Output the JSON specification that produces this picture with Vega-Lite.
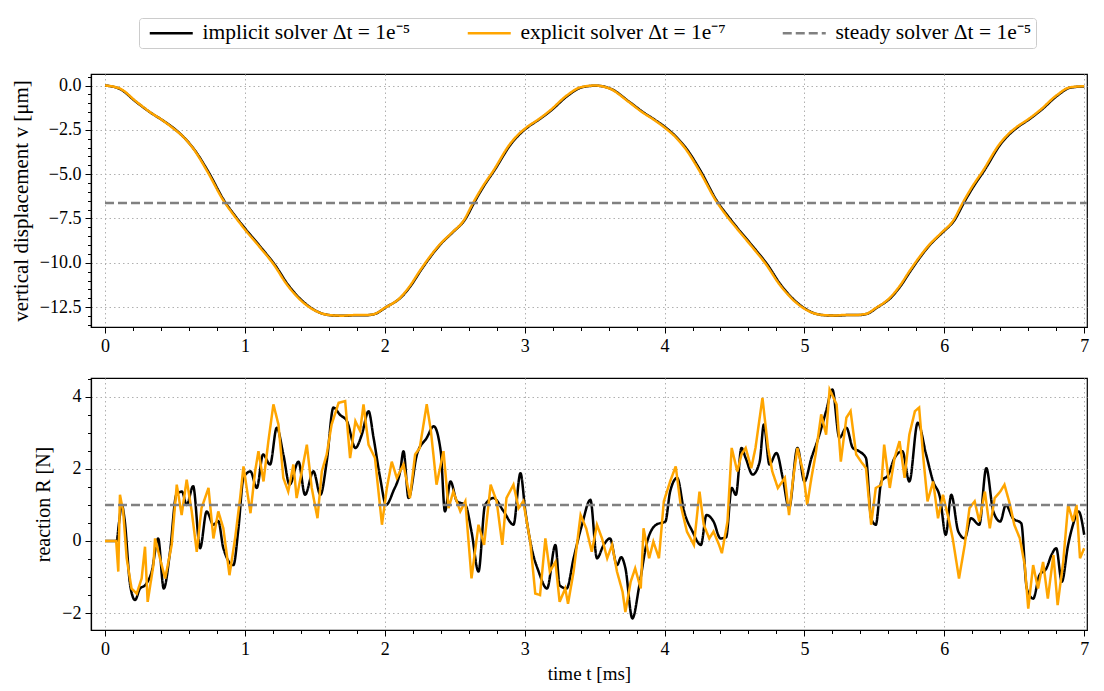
{
  "$schema": "https://vega.github.io/schema/vega-lite/v6.json",
  "padding": {"left": 9, "top": 17, "right": 0, "bottom": 0},
  "background": "white",
  "config": {
    "font": "Liberation Serif",
    "view": {"stroke": "black", "strokeWidth": 1.2},
    "axis": {
      "labelFont": "Liberation Serif", "labelFontSize": 18, "labelColor": "black",
      "titleFont": "Liberation Serif", "titleFontSize": 19, "titleFontWeight": "normal", "titleColor": "black",
      "domainColor": "black", "domainWidth": 1.2, "tickColor": "black", "tickWidth": 1,
      "gridColor": "#b0b0b0", "gridDash": [1.5, 3], "gridWidth": 1, "labelPadding": 4
    },
    "legend": {
      "labelFont": "Liberation Serif", "labelFontSize": 21.5, "labelColor": "black", "labelLimit": 0
    }
  },
  "datasets": {
    "disp": [
      {"s":"implicit","t":0,"y":0},{"s":"implicit","t":0.1,"y":-0.17},{"s":"implicit","t":0.23,"y":-0.97},{"s":"implicit","t":0.33,"y":-1.55},{"s":"implicit","t":0.41,"y":-1.95},{"s":"implicit","t":0.49,"y":-2.4},{"s":"implicit","t":0.57,"y":-2.97},{"s":"implicit","t":0.64,"y":-3.63},{"s":"implicit","t":0.74,"y":-4.88},{"s":"implicit","t":0.855,"y":-6.53},{"s":"implicit","t":0.93,"y":-7.35},{"s":"implicit","t":1.0,"y":-8.05},{"s":"implicit","t":1.12,"y":-9.18},{"s":"implicit","t":1.215,"y":-10.12},{"s":"implicit","t":1.31,"y":-11.25},{"s":"implicit","t":1.43,"y":-12.28},{"s":"implicit","t":1.545,"y":-12.84},{"s":"implicit","t":1.63,"y":-12.97},{"s":"implicit","t":1.71,"y":-12.99},{"s":"implicit","t":1.78,"y":-12.96},{"s":"implicit","t":1.86,"y":-12.96},{"s":"implicit","t":1.93,"y":-12.88},{"s":"implicit","t":2.01,"y":-12.5},{"s":"implicit","t":2.12,"y":-11.92},{"s":"implicit","t":2.19,"y":-11.25},{"s":"implicit","t":2.26,"y":-10.4},{"s":"implicit","t":2.405,"y":-8.9},{"s":"implicit","t":2.49,"y":-8.25},{"s":"implicit","t":2.572,"y":-7.58},{"s":"implicit","t":2.643,"y":-6.55},{"s":"implicit","t":2.71,"y":-5.65},{"s":"implicit","t":2.785,"y":-4.77},{"s":"implicit","t":2.905,"y":-3.27},{"s":"implicit","t":2.96,"y":-2.78},{"s":"implicit","t":3.024,"y":-2.34},{"s":"implicit","t":3.11,"y":-1.88},{"s":"implicit","t":3.19,"y":-1.4},{"s":"implicit","t":3.31,"y":-0.56},{"s":"implicit","t":3.41,"y":-0.1},{"s":"implicit","t":3.51,"y":-0.01},{"s":"implicit","t":3.62,"y":-0.2},{"s":"implicit","t":3.75,"y":-0.93},{"s":"implicit","t":3.85,"y":-1.52},{"s":"implicit","t":3.93,"y":-1.93},{"s":"implicit","t":4.01,"y":-2.38},{"s":"implicit","t":4.09,"y":-2.95},{"s":"implicit","t":4.16,"y":-3.6},{"s":"implicit","t":4.26,"y":-4.85},{"s":"implicit","t":4.375,"y":-6.52},{"s":"implicit","t":4.45,"y":-7.33},{"s":"implicit","t":4.52,"y":-8.03},{"s":"implicit","t":4.64,"y":-9.16},{"s":"implicit","t":4.735,"y":-10.1},{"s":"implicit","t":4.83,"y":-11.23},{"s":"implicit","t":4.95,"y":-12.26},{"s":"implicit","t":5.065,"y":-12.83},{"s":"implicit","t":5.15,"y":-12.96},{"s":"implicit","t":5.23,"y":-12.98},{"s":"implicit","t":5.3,"y":-12.95},{"s":"implicit","t":5.38,"y":-12.95},{"s":"implicit","t":5.45,"y":-12.87},{"s":"implicit","t":5.52,"y":-12.52},{"s":"implicit","t":5.62,"y":-11.95},{"s":"implicit","t":5.69,"y":-11.28},{"s":"implicit","t":5.76,"y":-10.44},{"s":"implicit","t":5.905,"y":-8.92},{"s":"implicit","t":5.99,"y":-8.27},{"s":"implicit","t":6.072,"y":-7.6},{"s":"implicit","t":6.143,"y":-6.57},{"s":"implicit","t":6.21,"y":-5.68},{"s":"implicit","t":6.286,"y":-4.79},{"s":"implicit","t":6.405,"y":-3.28},{"s":"implicit","t":6.46,"y":-2.79},{"s":"implicit","t":6.524,"y":-2.35},{"s":"implicit","t":6.61,"y":-1.89},{"s":"implicit","t":6.69,"y":-1.4},{"s":"implicit","t":6.81,"y":-0.56},{"s":"implicit","t":6.9,"y":-0.12},{"s":"implicit","t":7.0,"y":-0.05},
      {"s":"explicit","t":0,"y":0},{"s":"explicit","t":0.1,"y":-0.15},{"s":"explicit","t":0.229,"y":-0.94},{"s":"explicit","t":0.324,"y":-1.51},{"s":"explicit","t":0.4,"y":-1.9},{"s":"explicit","t":0.479,"y":-2.36},{"s":"explicit","t":0.56,"y":-2.9},{"s":"explicit","t":0.633,"y":-3.58},{"s":"explicit","t":0.729,"y":-4.81},{"s":"explicit","t":0.848,"y":-6.5},{"s":"explicit","t":0.92,"y":-7.3},{"s":"explicit","t":0.99,"y":-8.02},{"s":"explicit","t":1.11,"y":-9.15},{"s":"explicit","t":1.205,"y":-10.08},{"s":"explicit","t":1.3,"y":-11.22},{"s":"explicit","t":1.419,"y":-12.25},{"s":"explicit","t":1.538,"y":-12.82},{"s":"explicit","t":1.62,"y":-12.96},{"s":"explicit","t":1.7,"y":-12.98},{"s":"explicit","t":1.776,"y":-12.95},{"s":"explicit","t":1.85,"y":-12.95},{"s":"explicit","t":1.92,"y":-12.9},{"s":"explicit","t":2.0,"y":-12.54},{"s":"explicit","t":2.11,"y":-11.97},{"s":"explicit","t":2.18,"y":-11.3},{"s":"explicit","t":2.25,"y":-10.46},{"s":"explicit","t":2.395,"y":-8.95},{"s":"explicit","t":2.48,"y":-8.3},{"s":"explicit","t":2.562,"y":-7.64},{"s":"explicit","t":2.633,"y":-6.6},{"s":"explicit","t":2.7,"y":-5.7},{"s":"explicit","t":2.776,"y":-4.81},{"s":"explicit","t":2.895,"y":-3.3},{"s":"explicit","t":2.95,"y":-2.8},{"s":"explicit","t":3.014,"y":-2.36},{"s":"explicit","t":3.1,"y":-1.9},{"s":"explicit","t":3.181,"y":-1.41},{"s":"explicit","t":3.3,"y":-0.57},{"s":"explicit","t":3.4,"y":-0.1},{"s":"explicit","t":3.5,"y":0},{"s":"explicit","t":3.61,"y":-0.18},{"s":"explicit","t":3.74,"y":-0.9},{"s":"explicit","t":3.84,"y":-1.5},{"s":"explicit","t":3.92,"y":-1.91},{"s":"explicit","t":4.0,"y":-2.37},{"s":"explicit","t":4.08,"y":-2.92},{"s":"explicit","t":4.15,"y":-3.57},{"s":"explicit","t":4.25,"y":-4.82},{"s":"explicit","t":4.368,"y":-6.5},{"s":"explicit","t":4.44,"y":-7.31},{"s":"explicit","t":4.51,"y":-8.0},{"s":"explicit","t":4.63,"y":-9.14},{"s":"explicit","t":4.725,"y":-10.08},{"s":"explicit","t":4.82,"y":-11.2},{"s":"explicit","t":4.94,"y":-12.24},{"s":"explicit","t":5.055,"y":-12.81},{"s":"explicit","t":5.14,"y":-12.95},{"s":"explicit","t":5.22,"y":-12.97},{"s":"explicit","t":5.29,"y":-12.94},{"s":"explicit","t":5.37,"y":-12.94},{"s":"explicit","t":5.44,"y":-12.88},{"s":"explicit","t":5.51,"y":-12.55},{"s":"explicit","t":5.61,"y":-11.98},{"s":"explicit","t":5.68,"y":-11.32},{"s":"explicit","t":5.75,"y":-10.48},{"s":"explicit","t":5.895,"y":-8.96},{"s":"explicit","t":5.98,"y":-8.3},{"s":"explicit","t":6.062,"y":-7.64},{"s":"explicit","t":6.133,"y":-6.6},{"s":"explicit","t":6.2,"y":-5.7},{"s":"explicit","t":6.276,"y":-4.81},{"s":"explicit","t":6.395,"y":-3.3},{"s":"explicit","t":6.45,"y":-2.8},{"s":"explicit","t":6.514,"y":-2.36},{"s":"explicit","t":6.6,"y":-1.9},{"s":"explicit","t":6.681,"y":-1.41},{"s":"explicit","t":6.8,"y":-0.57},{"s":"explicit","t":6.9,"y":-0.1},{"s":"explicit","t":7.0,"y":-0.04},
      {"s":"steady","t":0,"y":-6.63},{"s":"steady","t":7.02,"y":-6.63}
    ],
    "react": [
      {"s":"implicit","t":0,"y":0},{"s":"implicit","t":0.083,"y":0},{"s":"implicit","t":0.1,"y":0.5},{"s":"implicit","t":0.12,"y":1.0},{"s":"implicit","t":0.14,"y":0.6},{"s":"implicit","t":0.18,"y":-1.23},{"s":"implicit","t":0.215,"y":-1.64},{"s":"implicit","t":0.25,"y":-1.32},{"s":"implicit","t":0.286,"y":-1.23},{"s":"implicit","t":0.334,"y":-0.85},{"s":"implicit","t":0.38,"y":0.07},{"s":"implicit","t":0.42,"y":-1.32},{"s":"implicit","t":0.465,"y":-0.3},{"s":"implicit","t":0.51,"y":1.28},{"s":"implicit","t":0.55,"y":1.37},{"s":"implicit","t":0.584,"y":1.0},{"s":"implicit","t":0.63,"y":1.52},{"s":"implicit","t":0.68,"y":-0.2},{"s":"implicit","t":0.727,"y":0.82},{"s":"implicit","t":0.775,"y":0.45},{"s":"implicit","t":0.81,"y":0.55},{"s":"implicit","t":0.846,"y":-0.2},{"s":"implicit","t":0.918,"y":-0.67},{"s":"implicit","t":0.954,"y":0.35},{"s":"implicit","t":0.99,"y":1.75},{"s":"implicit","t":1.04,"y":1.93},{"s":"implicit","t":1.085,"y":1.47},{"s":"implicit","t":1.13,"y":2.4},{"s":"implicit","t":1.18,"y":2.12},{"s":"implicit","t":1.228,"y":3.14},{"s":"implicit","t":1.275,"y":2.4},{"s":"implicit","t":1.32,"y":1.56},{"s":"implicit","t":1.383,"y":2.2},{"s":"implicit","t":1.43,"y":1.28},{"s":"implicit","t":1.49,"y":1.93},{"s":"implicit","t":1.54,"y":1.28},{"s":"implicit","t":1.585,"y":2.2},{"s":"implicit","t":1.633,"y":3.7},{"s":"implicit","t":1.68,"y":3.5},{"s":"implicit","t":1.73,"y":3.32},{"s":"implicit","t":1.79,"y":2.58},{"s":"implicit","t":1.836,"y":2.95},{"s":"implicit","t":1.884,"y":3.6},{"s":"implicit","t":1.92,"y":2.86},{"s":"implicit","t":1.967,"y":1.75},{"s":"implicit","t":2.01,"y":1.0},{"s":"implicit","t":2.06,"y":1.37},{"s":"implicit","t":2.11,"y":1.93},{"s":"implicit","t":2.134,"y":2.49},{"s":"implicit","t":2.17,"y":1.19},{"s":"implicit","t":2.23,"y":2.4},{"s":"implicit","t":2.3,"y":2.86},{"s":"implicit","t":2.35,"y":3.18},{"s":"implicit","t":2.4,"y":2.49},{"s":"implicit","t":2.43,"y":0.82},{"s":"implicit","t":2.47,"y":1.65},{"s":"implicit","t":2.516,"y":1.1},{"s":"implicit","t":2.576,"y":1.0},{"s":"implicit","t":2.62,"y":0.26},{"s":"implicit","t":2.67,"y":-0.85},{"s":"implicit","t":2.717,"y":1.0},{"s":"implicit","t":2.777,"y":1.19},{"s":"implicit","t":2.85,"y":0.82},{"s":"implicit","t":2.92,"y":0.45},{"s":"implicit","t":2.97,"y":1.88},{"s":"implicit","t":3.005,"y":0.82},{"s":"implicit","t":3.05,"y":-0.2},{"s":"implicit","t":3.1,"y":-0.85},{"s":"implicit","t":3.16,"y":-1.32},{"s":"implicit","t":3.22,"y":-0.11},{"s":"implicit","t":3.25,"y":-1.23},{"s":"implicit","t":3.3,"y":-1.32},{"s":"implicit","t":3.35,"y":-0.48},{"s":"implicit","t":3.41,"y":0.45},{"s":"implicit","t":3.47,"y":1.14},{"s":"implicit","t":3.517,"y":-0.48},{"s":"implicit","t":3.565,"y":-0.11},{"s":"implicit","t":3.61,"y":0.07},{"s":"implicit","t":3.66,"y":-0.67},{"s":"implicit","t":3.69,"y":-0.45},{"s":"implicit","t":3.72,"y":-0.75},{"s":"implicit","t":3.77,"y":-2.15},{"s":"implicit","t":3.82,"y":-1.23},{"s":"implicit","t":3.87,"y":-0.11},{"s":"implicit","t":3.94,"y":0.45},{"s":"implicit","t":4.006,"y":0.54},{"s":"implicit","t":4.04,"y":1.37},{"s":"implicit","t":4.09,"y":1.75},{"s":"implicit","t":4.14,"y":0.82},{"s":"implicit","t":4.2,"y":0.26},{"s":"implicit","t":4.26,"y":-0.11},{"s":"implicit","t":4.3,"y":0.72},{"s":"implicit","t":4.35,"y":0.54},{"s":"implicit","t":4.4,"y":0.07},{"s":"implicit","t":4.44,"y":0.1},{"s":"implicit","t":4.48,"y":1.47},{"s":"implicit","t":4.51,"y":1.28},{"s":"implicit","t":4.55,"y":2.58},{"s":"implicit","t":4.58,"y":2.3},{"s":"implicit","t":4.63,"y":1.84},{"s":"implicit","t":4.68,"y":2.2},{"s":"implicit","t":4.71,"y":3.23},{"s":"implicit","t":4.75,"y":2.12},{"s":"implicit","t":4.8,"y":2.44},{"s":"implicit","t":4.845,"y":1.75},{"s":"implicit","t":4.89,"y":0.91},{"s":"implicit","t":4.95,"y":2.58},{"s":"implicit","t":5.0,"y":1.65},{"s":"implicit","t":5.05,"y":2.3},{"s":"implicit","t":5.1,"y":2.86},{"s":"implicit","t":5.155,"y":3.6},{"s":"implicit","t":5.2,"y":4.2},{"s":"implicit","t":5.25,"y":2.86},{"s":"implicit","t":5.3,"y":3.14},{"s":"implicit","t":5.346,"y":2.58},{"s":"implicit","t":5.39,"y":2.49},{"s":"implicit","t":5.44,"y":2.3},{"s":"implicit","t":5.477,"y":0.63},{"s":"implicit","t":5.51,"y":0.45},{"s":"implicit","t":5.55,"y":1.65},{"s":"implicit","t":5.6,"y":1.84},{"s":"implicit","t":5.644,"y":2.3},{"s":"implicit","t":5.7,"y":2.49},{"s":"implicit","t":5.75,"y":1.65},{"s":"implicit","t":5.81,"y":3.28},{"s":"implicit","t":5.87,"y":2.4},{"s":"implicit","t":5.92,"y":1.65},{"s":"implicit","t":5.97,"y":1.19},{"s":"implicit","t":6.01,"y":0.17},{"s":"implicit","t":6.05,"y":1.28},{"s":"implicit","t":6.1,"y":0.26},{"s":"implicit","t":6.146,"y":0.07},{"s":"implicit","t":6.19,"y":0.63},{"s":"implicit","t":6.25,"y":0.45},{"s":"implicit","t":6.3,"y":2.02},{"s":"implicit","t":6.35,"y":0.82},{"s":"implicit","t":6.4,"y":0.54},{"s":"implicit","t":6.44,"y":1.0},{"s":"implicit","t":6.49,"y":0.63},{"s":"implicit","t":6.55,"y":0.49},{"s":"implicit","t":6.59,"y":-1.32},{"s":"implicit","t":6.635,"y":-1.6},{"s":"implicit","t":6.68,"y":-0.95},{"s":"implicit","t":6.73,"y":-0.76},{"s":"implicit","t":6.766,"y":-0.39},{"s":"implicit","t":6.8,"y":-0.2},{"s":"implicit","t":6.84,"y":-1.13},{"s":"implicit","t":6.885,"y":-0.11},{"s":"implicit","t":6.92,"y":0.45},{"s":"implicit","t":6.96,"y":0.82},{"s":"implicit","t":7.0,"y":0.17},
      {"s":"explicit","t":0,"y":0},{"s":"explicit","t":0.08,"y":0},{"s":"explicit","t":0.095,"y":-0.85},{"s":"explicit","t":0.107,"y":1.28},{"s":"explicit","t":0.13,"y":0.82},{"s":"explicit","t":0.155,"y":-0.48},{"s":"explicit","t":0.19,"y":-1.32},{"s":"explicit","t":0.227,"y":-1.46},{"s":"explicit","t":0.262,"y":-1.04},{"s":"explicit","t":0.286,"y":-0.16},{"s":"explicit","t":0.305,"y":-1.69},{"s":"explicit","t":0.346,"y":-0.67},{"s":"explicit","t":0.358,"y":0.07},{"s":"explicit","t":0.393,"y":-0.48},{"s":"explicit","t":0.43,"y":-1.04},{"s":"explicit","t":0.477,"y":-0.11},{"s":"explicit","t":0.513,"y":1.56},{"s":"explicit","t":0.548,"y":0.72},{"s":"explicit","t":0.584,"y":1.7},{"s":"explicit","t":0.62,"y":0.82},{"s":"explicit","t":0.656,"y":-0.3},{"s":"explicit","t":0.69,"y":0.91},{"s":"explicit","t":0.74,"y":1.47},{"s":"explicit","t":0.775,"y":0.07},{"s":"explicit","t":0.81,"y":0.82},{"s":"explicit","t":0.846,"y":0.35},{"s":"explicit","t":0.89,"y":-0.95},{"s":"explicit","t":0.93,"y":0.07},{"s":"explicit","t":0.966,"y":1.19},{"s":"explicit","t":0.99,"y":2.07},{"s":"explicit","t":1.04,"y":0.77},{"s":"explicit","t":1.073,"y":1.93},{"s":"explicit","t":1.097,"y":2.49},{"s":"explicit","t":1.133,"y":1.65},{"s":"explicit","t":1.168,"y":2.77},{"s":"explicit","t":1.204,"y":3.79},{"s":"explicit","t":1.24,"y":3.23},{"s":"explicit","t":1.275,"y":1.75},{"s":"explicit","t":1.31,"y":1.37},{"s":"explicit","t":1.347,"y":2.12},{"s":"explicit","t":1.37,"y":1.19},{"s":"explicit","t":1.407,"y":1.93},{"s":"explicit","t":1.443,"y":2.67},{"s":"explicit","t":1.478,"y":1.47},{"s":"explicit","t":1.519,"y":0.63},{"s":"explicit","t":1.55,"y":1.93},{"s":"explicit","t":1.585,"y":2.4},{"s":"explicit","t":1.62,"y":3.23},{"s":"explicit","t":1.67,"y":3.83},{"s":"explicit","t":1.717,"y":3.88},{"s":"explicit","t":1.752,"y":2.3},{"s":"explicit","t":1.79,"y":3.32},{"s":"explicit","t":1.824,"y":3.05},{"s":"explicit","t":1.848,"y":3.79},{"s":"explicit","t":1.884,"y":2.67},{"s":"explicit","t":1.93,"y":2.3},{"s":"explicit","t":1.98,"y":0.45},{"s":"explicit","t":2.015,"y":1.47},{"s":"explicit","t":2.05,"y":2.2},{"s":"explicit","t":2.086,"y":1.75},{"s":"explicit","t":2.134,"y":2.12},{"s":"explicit","t":2.18,"y":1.19},{"s":"explicit","t":2.217,"y":2.4},{"s":"explicit","t":2.25,"y":2.58},{"s":"explicit","t":2.3,"y":3.79},{"s":"explicit","t":2.33,"y":3.05},{"s":"explicit","t":2.37,"y":1.56},{"s":"explicit","t":2.42,"y":2.49},{"s":"explicit","t":2.456,"y":0.91},{"s":"explicit","t":2.49,"y":1.37},{"s":"explicit","t":2.54,"y":0.82},{"s":"explicit","t":2.576,"y":1.1},{"s":"explicit","t":2.62,"y":-1.04},{"s":"explicit","t":2.67,"y":0.45},{"s":"explicit","t":2.71,"y":-0.11},{"s":"explicit","t":2.757,"y":1.56},{"s":"explicit","t":2.8,"y":1.1},{"s":"explicit","t":2.84,"y":-0.11},{"s":"explicit","t":2.87,"y":1.19},{"s":"explicit","t":2.92,"y":1.56},{"s":"explicit","t":2.957,"y":0.91},{"s":"explicit","t":2.99,"y":1.1},{"s":"explicit","t":3.04,"y":-0.02},{"s":"explicit","t":3.076,"y":-1.46},{"s":"explicit","t":3.11,"y":-1.5},{"s":"explicit","t":3.148,"y":0.07},{"s":"explicit","t":3.18,"y":-0.85},{"s":"explicit","t":3.22,"y":-0.58},{"s":"explicit","t":3.25,"y":-1.69},{"s":"explicit","t":3.29,"y":-1.32},{"s":"explicit","t":3.31,"y":-1.74},{"s":"explicit","t":3.35,"y":-0.85},{"s":"explicit","t":3.4,"y":0.72},{"s":"explicit","t":3.44,"y":0.35},{"s":"explicit","t":3.48,"y":-0.3},{"s":"explicit","t":3.517,"y":0.45},{"s":"explicit","t":3.553,"y":0.07},{"s":"explicit","t":3.59,"y":-0.48},{"s":"explicit","t":3.625,"y":-0.11},{"s":"explicit","t":3.66,"y":-0.85},{"s":"explicit","t":3.7,"y":-1.41},{"s":"explicit","t":3.72,"y":-1.97},{"s":"explicit","t":3.758,"y":-1.13},{"s":"explicit","t":3.79,"y":-0.76},{"s":"explicit","t":3.83,"y":-1.32},{"s":"explicit","t":3.85,"y":0.35},{"s":"explicit","t":3.89,"y":-0.48},{"s":"explicit","t":3.92,"y":-0.02},{"s":"explicit","t":3.96,"y":-0.48},{"s":"explicit","t":3.995,"y":1.1},{"s":"explicit","t":4.04,"y":1.65},{"s":"explicit","t":4.08,"y":2.07},{"s":"explicit","t":4.115,"y":1.0},{"s":"explicit","t":4.16,"y":0.26},{"s":"explicit","t":4.21,"y":-0.11},{"s":"explicit","t":4.25,"y":1.37},{"s":"explicit","t":4.28,"y":0.45},{"s":"explicit","t":4.32,"y":0.07},{"s":"explicit","t":4.35,"y":0.26},{"s":"explicit","t":4.39,"y":-0.11},{"s":"explicit","t":4.41,"y":-0.34},{"s":"explicit","t":4.45,"y":0.54},{"s":"explicit","t":4.48,"y":2.58},{"s":"explicit","t":4.52,"y":1.93},{"s":"explicit","t":4.55,"y":2.4},{"s":"explicit","t":4.58,"y":2.58},{"s":"explicit","t":4.62,"y":2.02},{"s":"explicit","t":4.65,"y":2.58},{"s":"explicit","t":4.7,"y":3.97},{"s":"explicit","t":4.74,"y":2.58},{"s":"explicit","t":4.77,"y":1.93},{"s":"explicit","t":4.81,"y":1.47},{"s":"explicit","t":4.86,"y":1.75},{"s":"explicit","t":4.89,"y":0.72},{"s":"explicit","t":4.92,"y":1.75},{"s":"explicit","t":4.95,"y":2.58},{"s":"explicit","t":4.99,"y":1.93},{"s":"explicit","t":5.02,"y":1.0},{"s":"explicit","t":5.05,"y":1.75},{"s":"explicit","t":5.08,"y":2.4},{"s":"explicit","t":5.12,"y":3.51},{"s":"explicit","t":5.155,"y":2.95},{"s":"explicit","t":5.18,"y":4.2},{"s":"explicit","t":5.23,"y":3.79},{"s":"explicit","t":5.26,"y":2.2},{"s":"explicit","t":5.3,"y":3.42},{"s":"explicit","t":5.33,"y":3.6},{"s":"explicit","t":5.37,"y":2.4},{"s":"explicit","t":5.405,"y":2.2},{"s":"explicit","t":5.44,"y":2.02},{"s":"explicit","t":5.477,"y":0.45},{"s":"explicit","t":5.51,"y":1.47},{"s":"explicit","t":5.55,"y":1.56},{"s":"explicit","t":5.57,"y":2.67},{"s":"explicit","t":5.61,"y":1.47},{"s":"explicit","t":5.644,"y":2.3},{"s":"explicit","t":5.68,"y":2.77},{"s":"explicit","t":5.716,"y":1.75},{"s":"explicit","t":5.75,"y":2.95},{"s":"explicit","t":5.79,"y":3.6},{"s":"explicit","t":5.82,"y":3.7},{"s":"explicit","t":5.85,"y":2.3},{"s":"explicit","t":5.88,"y":1.1},{"s":"explicit","t":5.92,"y":1.65},{"s":"explicit","t":5.955,"y":0.63},{"s":"explicit","t":5.99,"y":1.28},{"s":"explicit","t":6.03,"y":0.63},{"s":"explicit","t":6.06,"y":0.07},{"s":"explicit","t":6.105,"y":-1.04},{"s":"explicit","t":6.146,"y":-0.11},{"s":"explicit","t":6.18,"y":0.91},{"s":"explicit","t":6.217,"y":1.1},{"s":"explicit","t":6.25,"y":0.54},{"s":"explicit","t":6.29,"y":1.37},{"s":"explicit","t":6.325,"y":0.35},{"s":"explicit","t":6.36,"y":1.19},{"s":"explicit","t":6.4,"y":1.37},{"s":"explicit","t":6.43,"y":1.56},{"s":"explicit","t":6.47,"y":1.0},{"s":"explicit","t":6.5,"y":0.45},{"s":"explicit","t":6.54,"y":0.07},{"s":"explicit","t":6.575,"y":-0.67},{"s":"explicit","t":6.6,"y":-1.88},{"s":"explicit","t":6.635,"y":-0.67},{"s":"explicit","t":6.67,"y":-1.32},{"s":"explicit","t":6.706,"y":-0.58},{"s":"explicit","t":6.74,"y":-1.6},{"s":"explicit","t":6.78,"y":-0.39},{"s":"explicit","t":6.81,"y":-1.78},{"s":"explicit","t":6.85,"y":-0.58},{"s":"explicit","t":6.885,"y":1.0},{"s":"explicit","t":6.92,"y":0.54},{"s":"explicit","t":6.945,"y":1.0},{"s":"explicit","t":6.97,"y":-0.48},{"s":"explicit","t":7.0,"y":-0.2},
      {"s":"steady","t":0,"y":1.0},{"s":"steady","t":7.02,"y":1.0}
    ]
  },
  "spacing": 21,
  "resolve": {"scale": {"color": "shared", "strokeDash": "shared"}, "legend": {"color": "shared", "strokeDash": "shared"}},
  "vconcat": [
    {
      "width": 996, "height": 253,
      "data": {"name": "disp"},
      "encoding": {
        "x": {"field": "t", "type": "quantitative",
          "scale": {"domain": [-0.1, 7.02], "nice": false, "zero": false},
          "axis": {"title": null, "values": [0,0.2,0.4,0.6,0.8,1,1.2,1.4,1.6,1.8,2,2.2,2.4,2.6,2.8,3,3.2,3.4,3.6,3.8,4,4.2,4.4,4.6,4.8,5,5.2,5.4,5.6,5.8,6,6.2,6.4,6.6,6.8,7],
            "labelExpr": "datum.value % 1 === 0 ? format(datum.value, 'd') : ''",
            "tickSize": {"condition": {"test": "datum.value % 1 === 0", "value": 6}, "value": 3.5},
            "gridOpacity": {"condition": {"test": "datum.value % 1 === 0", "value": 1}, "value": 0},
            "labelFlush": false}},
        "y": {"field": "y", "type": "quantitative",
          "scale": {"domain": [-13.62, 0.65], "nice": false, "zero": false},
          "axis": {"title": "vertical displacement v [μm]", "titlePadding": 8, "titleFontSize": 21,
            "values": [-13.5,-13,-12.5,-12,-11.5,-11,-10.5,-10,-9.5,-9,-8.5,-8,-7.5,-7,-6.5,-6,-5.5,-5,-4.5,-4,-3.5,-3,-2.5,-2,-1.5,-1,-0.5,0,0.5],
            "labelExpr": "datum.value % 2.5 === 0 ? format(datum.value, '.1f') : ''",
            "tickSize": {"condition": {"test": "datum.value % 2.5 === 0", "value": 6}, "value": 3.5},
            "gridOpacity": {"condition": {"test": "datum.value % 2.5 === 0", "value": 1}, "value": 0}}},
        "color": {"field": "s", "type": "nominal",
          "scale": {"domain": ["implicit", "explicit", "steady"], "range": ["#000000", "#FFA500", "#808080"]},
          "legend": {"orient": "none", "legendX": 48, "legendY": -56, "direction": "horizontal", "title": null,
            "symbolType": "M-0.5,0H4.875", "symbolSize": 256, "symbolStrokeWidth": 2.5, "labelOffset": 38, "columnPadding": 50,
            "strokeColor": "#cccccc", "fillColor": "white", "padding": 4, "cornerRadius": 3,
            "labelExpr": "datum.label === 'implicit' ? 'implicit solver Δt = 1e⁻⁵' : datum.label === 'explicit' ? 'explicit solver Δt = 1e⁻⁷' : 'steady solver Δt = 1e⁻⁵'"}},
        "strokeDash": {"field": "s", "type": "nominal",
          "scale": {"domain": ["implicit", "explicit", "steady"], "range": [[1, 0], [1, 0], [9, 4]]},
          "legend": {"orient": "none", "legendX": 48, "legendY": -56, "direction": "horizontal", "title": null,
            "symbolType": "M-0.5,0H4.875", "symbolSize": 256, "symbolStrokeWidth": 2.5, "labelOffset": 38, "columnPadding": 50,
            "strokeColor": "#cccccc", "fillColor": "white", "padding": 4, "cornerRadius": 3,
            "labelExpr": "datum.label === 'implicit' ? 'implicit solver Δt = 1e⁻⁵' : datum.label === 'explicit' ? 'explicit solver Δt = 1e⁻⁷' : 'steady solver Δt = 1e⁻⁵'"}}
      },
      "layer": [
        {"transform": [{"filter": "datum.s === 'implicit'"}], "mark": {"type": "line", "strokeWidth": 2.5, "interpolate": "monotone"}},
        {"transform": [{"filter": "datum.s === 'explicit'"}], "mark": {"type": "line", "strokeWidth": 2.5, "interpolate": "monotone"}},
        {"transform": [{"filter": "datum.s === 'steady'"}], "mark": {"type": "line", "strokeWidth": 2.5}}
      ]
    },
    {
      "width": 996, "height": 252,
      "data": {"name": "react"},
      "encoding": {
        "x": {"field": "t", "type": "quantitative",
          "scale": {"domain": [-0.1, 7.02], "nice": false, "zero": false},
          "axis": {"title": "time t [ms]", "titlePadding": 6, "values": [0,0.2,0.4,0.6,0.8,1,1.2,1.4,1.6,1.8,2,2.2,2.4,2.6,2.8,3,3.2,3.4,3.6,3.8,4,4.2,4.4,4.6,4.8,5,5.2,5.4,5.6,5.8,6,6.2,6.4,6.6,6.8,7],
            "labelExpr": "datum.value % 1 === 0 ? format(datum.value, 'd') : ''",
            "tickSize": {"condition": {"test": "datum.value % 1 === 0", "value": 6}, "value": 3.5},
            "gridOpacity": {"condition": {"test": "datum.value % 1 === 0", "value": 1}, "value": 0},
            "labelFlush": false}},
        "y": {"field": "y", "type": "quantitative",
          "scale": {"domain": [-2.47, 4.52], "nice": false, "zero": false},
          "axis": {"title": "reaction R [N]", "titlePadding": 8, "titleFontSize": 20,
            "values": [-2,-1.5,-1,-0.5,0,0.5,1,1.5,2,2.5,3,3.5,4,4.5],
            "labelExpr": "datum.value % 2 === 0 ? format(datum.value, 'd') : ''",
            "tickSize": {"condition": {"test": "datum.value % 2 === 0", "value": 6}, "value": 3.5},
            "gridOpacity": {"condition": {"test": "datum.value % 2 === 0", "value": 1}, "value": 0}}},
        "color": {"field": "s", "type": "nominal",
          "scale": {"domain": ["implicit", "explicit", "steady"], "range": ["#000000", "#FFA500", "#808080"]}},
        "strokeDash": {"field": "s", "type": "nominal",
          "scale": {"domain": ["implicit", "explicit", "steady"], "range": [[1, 0], [1, 0], [9, 4]]}}
      },
      "layer": [
        {"transform": [{"filter": "datum.s === 'implicit'"}], "mark": {"type": "line", "strokeWidth": 2.5, "interpolate": "monotone"}},
        {"transform": [{"filter": "datum.s === 'explicit'"}], "mark": {"type": "line", "strokeWidth": 2.5}},
        {"transform": [{"filter": "datum.s === 'steady'"}], "mark": {"type": "line", "strokeWidth": 2.5}}
      ]
    }
  ]
}
